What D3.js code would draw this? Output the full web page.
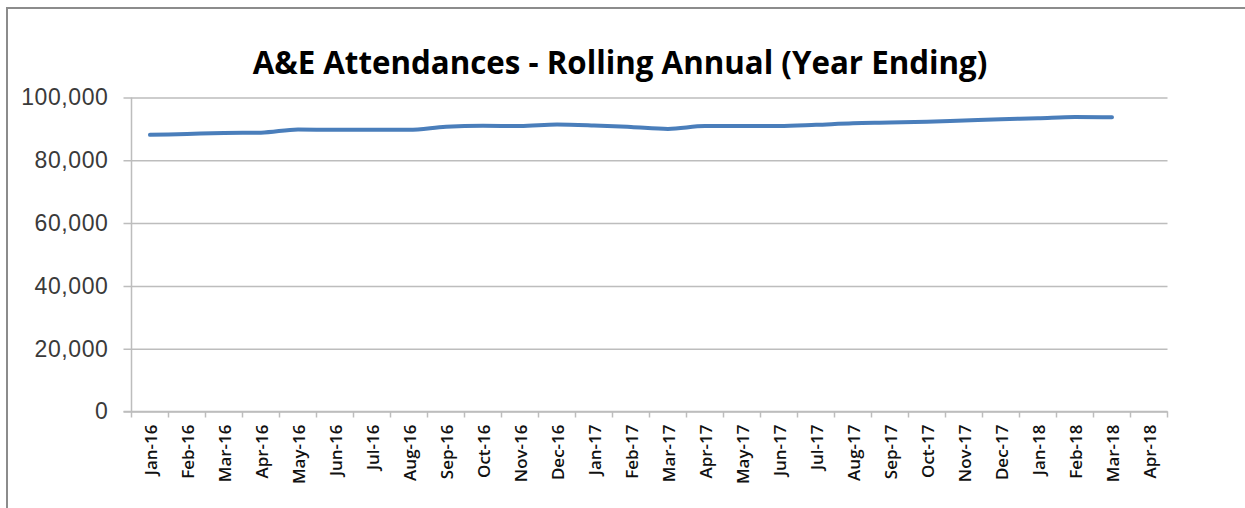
<!DOCTYPE html>
<html>
<head>
<meta charset="utf-8">
<script src="https://cdn.jsdelivr.net/npm/d3@7"></script>
<style>
	body { margin: 0; background: #fff; }
	svg { display: block; font-family: 'Open Sans', sans-serif; }
</style>
</head>
<body>
<svg id="chart"></svg>
<script>
const WIDTH = 1245;
const HEIGHT = 508;

const months = ['Jan-16', 'Feb-16', 'Mar-16', 'Apr-16', 'May-16', 'Jun-16', 'Jul-16', 'Aug-16', 'Sep-16', 'Oct-16', 'Nov-16', 'Dec-16',
	'Jan-17', 'Feb-17', 'Mar-17', 'Apr-17', 'May-17', 'Jun-17', 'Jul-17', 'Aug-17', 'Sep-17', 'Oct-17', 'Nov-17', 'Dec-17',
	'Jan-18', 'Feb-18', 'Mar-18', 'Apr-18'];

// rolling annual attendances, Jan-16 .. Mar-18 (Apr-18 has no value yet)
const attendances = [88100, 88400, 88700, 88800, 89800, 89700, 89700, 89700, 90700, 91000, 90900, 91400,
	91100, 90600, 90000, 90900, 90900, 90900, 91300, 91800, 92000, 92300, 92700, 93100,
	93400, 93800, 93700];

const yTicks = [0, 20000, 40000, 60000, 80000, 100000];

const plot = {left: 131.5, right: 1167.5, top: 97.5, bottom: 411.5};

const svg = d3.select('#chart')
	.attr('width', WIDTH)
	.attr('height', HEIGHT);

svg.append('rect')
	.attr('width', WIDTH)
	.attr('height', HEIGHT)
	.attr('fill', '#fff');

// outer chart border (right and bottom fall outside the picture)
svg.append('rect')
	.attr('x', 7)
	.attr('y', 8)
	.attr('width', 1400)
	.attr('height', 700)
	.attr('fill', 'none')
	.attr('stroke', '#8c8c8c')
	.attr('stroke-width', 2);

const x = d3.scaleBand()
	.domain(months)
	.range([plot.left, plot.right]);

const y = d3.scaleLinear()
	.domain([0, 100000])
	.range([plot.bottom, plot.top]);

// gridlines + y axis
const yAxis = svg.append('g')
	.attr('transform', `translate(${plot.left},0)`)
	.call(d3.axisLeft(y)
		.tickValues(yTicks)
		.tickSize(-(plot.right - plot.left))
		.tickSizeOuter(0)
		.tickPadding(23)
		.tickFormat(d3.format(',')));

yAxis.select('.domain').remove();
yAxis.selectAll('.tick line')
	.attr('x1', -8)
	.attr('stroke', '#bdbdbd')
	.attr('stroke-width', 1.5);
yAxis.selectAll('.tick text')
	.attr('fill', '#3a3a3a')
	.style('font-size', '23px')
	.style('letter-spacing', '0.6px');

svg.append('line')
	.attr('x1', plot.left)
	.attr('x2', plot.left)
	.attr('y1', plot.top)
	.attr('y2', plot.bottom)
	.attr('stroke', '#bdbdbd')
	.attr('stroke-width', 1.5);

// x axis with ticks at band edges
const xAxis = svg.append('g')
	.attr('transform', `translate(0,${plot.bottom})`);

xAxis.append('line')
	.attr('x1', plot.left - 8)
	.attr('x2', plot.right)
	.attr('stroke', '#bdbdbd')
	.attr('stroke-width', 1.5);

xAxis.selectAll('.edge')
	.data(months.concat(['end']))
	.enter()
	.append('line')
	.attr('class', 'edge')
	.attr('x1', (d, i) => plot.left + i * x.bandwidth())
	.attr('x2', (d, i) => plot.left + i * x.bandwidth())
	.attr('y1', 0)
	.attr('y2', 6)
	.attr('stroke', '#bdbdbd')
	.attr('stroke-width', 1.5);

xAxis.selectAll('.label')
	.data(months)
	.enter()
	.append('text')
	.attr('class', 'label')
	.attr('transform', d => `translate(${x(d) + x.bandwidth() / 2 + 7},13) rotate(-90)`)
	.attr('text-anchor', 'end')
	.attr('fill', '#111')
	.style('font-size', '17px')
	.style('font-weight', 600)
	.text(d => d);

// the series
const line = d3.line()
	.x((d, i) => x(months[i]) + x.bandwidth() / 2)
	.y(d => y(d))
	.curve(d3.curveMonotoneX);

svg.append('path')
	.datum(attendances)
	.attr('d', line)
	.attr('fill', 'none')
	.attr('stroke', '#4a7ebb')
	.attr('stroke-width', 4)
	.attr('stroke-linecap', 'round');

// title, sized to span the same width as the original
const title = svg.append('text')
	.attr('x', 620)
	.attr('y', 74)
	.attr('text-anchor', 'middle')
	.attr('fill', '#000')
	.style('font-weight', 'bold')
	.style('font-size', '28px')
	.text('A&E Attendances - Rolling Annual (Year Ending)');

const titleWidth = title.node().getComputedTextLength();
title.style('font-size', (28 * 735 / titleWidth) + 'px');
</script>
</body>
</html>
